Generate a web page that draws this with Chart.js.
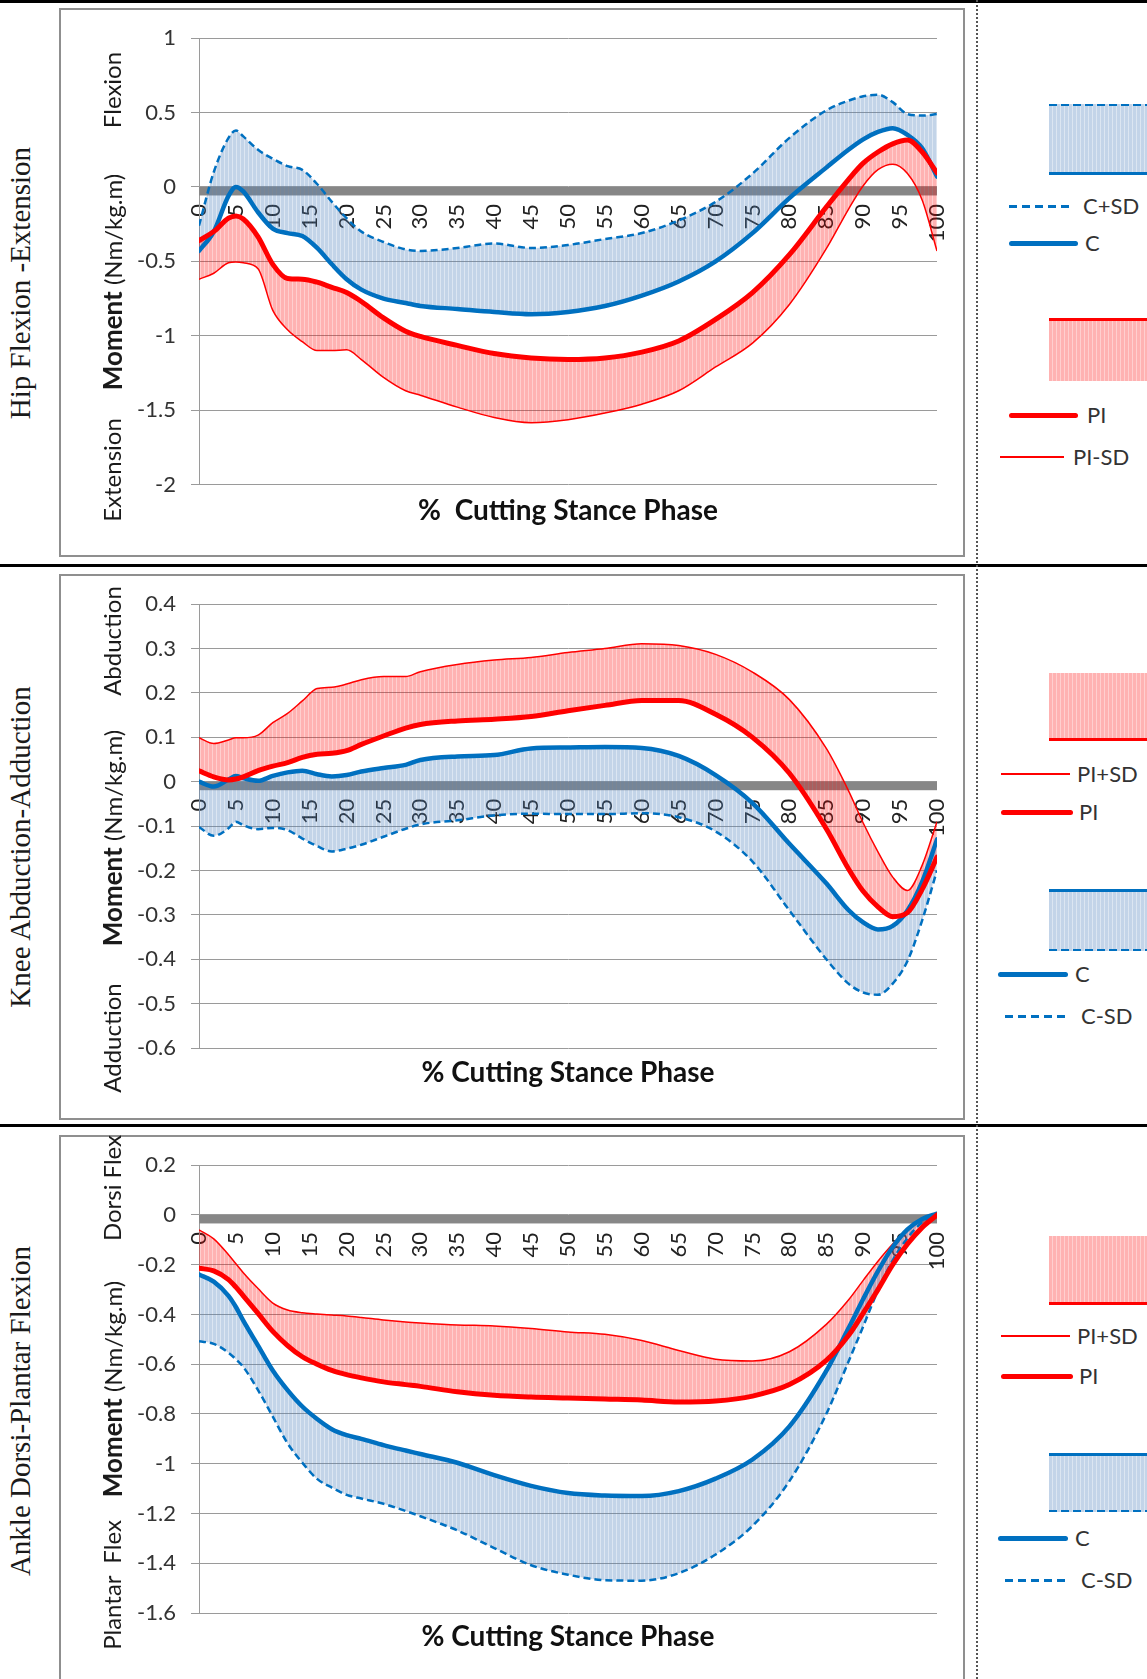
<!DOCTYPE html>
<html>
<head>
<meta charset="utf-8">
<script src="https://cdn.jsdelivr.net/npm/chart.js@4.4.1/dist/chart.umd.min.js"></script>
<style>
  html, body { margin: 0; padding: 0; background: #fff; }
  body { width: 1147px; height: 1679px; position: relative; overflow: hidden; font-family: Lato, sans-serif; }
  .hline { position: absolute; left: 0; width: 1147px; height: 3px; background: #000; }
  .vdots { position: absolute; left: 976px; top: 0; height: 1679px; border-left: 2px dotted #555; }
  .box { position: absolute; left: 59px; width: 902px; border: 2px solid #8f8f8f; background: #fff; }
  canvas { position: absolute; left: 61px; }
  .rot { position: absolute; transform: translate(-50%, -50%) rotate(-90deg); white-space: pre; line-height: 1; }
  .outer { font-family: 'Liberation Serif', serif; font-size: 29px; color: #1a1a1a; }
  .inner { font-size: 24px; color: #1a1a1a; }
  .inner b { font-size: 26px; }
  .xt { position: absolute; transform: translate(-50%, -50%); font-weight: bold; font-size: 28px; white-space: pre; color: #111; }
  .lg { position: absolute; font-size: 22px; color: #333; transform: translateY(-50%); line-height: 1; }
  .lbox { position: absolute; left: 1049px; width: 98px; }
  .lbox.blue { background: repeating-linear-gradient(90deg, rgba(79,129,189,0.34) 0 3px, rgba(79,129,189,0.2) 3px 4px); }
  .lbox.red { background: repeating-linear-gradient(90deg, rgba(255,0,0,0.3) 0 3px, rgba(255,0,0,0.19) 3px 4px); }
  .edge { position: absolute; left: 1049px; width: 98px; }
  .edge.bsolid { height: 3px; background: #0070C0; }
  .edge.rsolid { height: 3px; background: #ff0000; }
  .edge.bdash { height: 2px; background: repeating-linear-gradient(90deg, #0070C0 0 8px, transparent 8px 12px); }
  .ldash { position: absolute; height: 3px; background: repeating-linear-gradient(90deg, #0070C0 0 8px, transparent 8px 13px); }
  .lthick { position: absolute; height: 5px; border-radius: 3px; }
  .lthin { position: absolute; height: 1.5px; background: #ff0000; }
</style>
</head>
<body>

<div class="hline" style="top:0px"></div>
<div class="hline" style="top:564px"></div>
<div class="hline" style="top:1124px"></div>

<div class="box" style="top:8px;height:545px"></div>
<div class="box" style="top:574px;height:542px"></div>
<div class="box" style="top:1135px;height:560px"></div>

<canvas id="hip" width="902" height="545" style="top:10px"></canvas>
<canvas id="knee" width="902" height="542" style="top:576px"></canvas>
<canvas id="ankle" width="902" height="542" style="top:1137px"></canvas>

<div class="vdots"></div>

<!-- titres des axes -->
<div class="rot outer" style="left:20px;top:283px">Hip Flexion -Extension</div>
<div class="rot outer" style="left:20px;top:847px">Knee Abduction-Adduction</div>
<div class="rot outer" style="left:20px;top:1411px">Ankle Dorsi-Plantar Flexion</div>

<div class="rot inner" style="left:112px;top:90px">Flexion</div>
<div class="rot inner" style="left:112px;top:282px"><b>Moment</b> (Nm/kg.m)</div>
<div class="rot inner" style="left:112px;top:470px">Extension</div>

<div class="rot inner" style="left:112px;top:641px">Abduction</div>
<div class="rot inner" style="left:112px;top:838px"><b>Moment</b> (Nm/kg.m)</div>
<div class="rot inner" style="left:112px;top:1038px">Adduction</div>

<div class="rot inner" style="left:112px;top:1188px">Dorsi Flex</div>
<div class="rot inner" style="left:112px;top:1389px"><b>Moment</b> (Nm/kg.m)</div>
<div class="rot inner" style="left:112px;top:1585px">Plantar  Flex</div>

<div class="xt" style="left:568px;top:509px">%  Cutting Stance Phase</div>
<div class="xt" style="left:568px;top:1071px">% Cutting Stance Phase</div>
<div class="xt" style="left:568px;top:1635px">% Cutting Stance Phase</div>

<!-- legende hanche -->
<div class="lbox blue" style="top:104px;height:71px"></div>
<div class="edge bdash" style="top:104px"></div>
<div class="edge bsolid" style="top:172px"></div>
<div class="ldash" style="left:1009px;top:204.5px;width:63px"></div>
<div class="lg" style="left:1083px;top:206px">C+SD</div>
<div class="lthick" style="left:1009px;top:240.5px;width:69px;background:#0070C0"></div>
<div class="lg" style="left:1085px;top:243px">C</div>
<div class="lbox red" style="top:318px;height:63px"></div>
<div class="edge rsolid" style="top:318px"></div>
<div class="lthick" style="left:1009px;top:412.5px;width:69px;background:#ff0000"></div>
<div class="lg" style="left:1087px;top:415px">PI</div>
<div class="lthin" style="left:1000px;top:456px;width:64px"></div>
<div class="lg" style="left:1073px;top:457px">PI-SD</div>

<!-- legende genou -->
<div class="lbox red" style="top:673px;height:68px"></div>
<div class="edge rsolid" style="top:738px"></div>
<div class="lthin" style="left:1001px;top:773px;width:69px"></div>
<div class="lg" style="left:1077px;top:774px">PI+SD</div>
<div class="lthick" style="left:1001px;top:809.5px;width:72px;background:#ff0000"></div>
<div class="lg" style="left:1079px;top:812px">PI</div>
<div class="lbox blue" style="top:889px;height:62px"></div>
<div class="edge bsolid" style="top:889px"></div>
<div class="edge bdash" style="top:949px"></div>
<div class="lthick" style="left:998px;top:971.5px;width:70px;background:#0070C0"></div>
<div class="lg" style="left:1075px;top:974px">C</div>
<div class="ldash" style="left:1005px;top:1014.5px;width:63px"></div>
<div class="lg" style="left:1081px;top:1016px">C-SD</div>

<!-- legende cheville -->
<div class="lbox red" style="top:1236px;height:69px"></div>
<div class="edge rsolid" style="top:1302px"></div>
<div class="lthin" style="left:1001px;top:1335px;width:69px"></div>
<div class="lg" style="left:1077px;top:1336px">PI+SD</div>
<div class="lthick" style="left:1001px;top:1373.5px;width:72px;background:#ff0000"></div>
<div class="lg" style="left:1079px;top:1376px">PI</div>
<div class="lbox blue" style="top:1453px;height:59px"></div>
<div class="edge bsolid" style="top:1453px"></div>
<div class="edge bdash" style="top:1510px"></div>
<div class="lthick" style="left:998px;top:1535.5px;width:70px;background:#0070C0"></div>
<div class="lg" style="left:1075px;top:1538px">C</div>
<div class="ldash" style="left:1005px;top:1578.5px;width:63px"></div>
<div class="lg" style="left:1081px;top:1580px">C-SD</div>

<script>
// % de la phase d'appui
const pct = [0, 2, 4, 5, 6, 8, 10, 12, 14, 16, 18, 20, 22, 25, 28, 30, 35, 40, 45, 50,
  55, 60, 65, 70, 75, 80, 85, 88, 90, 92, 94, 96, 98, 100];

// Hanche flexion-extension
const hipCplusSD = [-0.26, 0.10, 0.33, 0.38, 0.34, 0.25, 0.19, 0.14, 0.115, 0.02, -0.10, -0.21, -0.30, -0.37, -0.42, -0.43, -0.41, -0.38, -0.41, -0.39,
  -0.35, -0.31, -0.225, -0.10, 0.09, 0.33, 0.515, 0.58, 0.61, 0.62, 0.57, 0.49, 0.48, 0.49];
const hipC = [-0.43, -0.30, -0.06, 0.0, -0.03, -0.17, -0.28, -0.31, -0.33, -0.41, -0.52, -0.62, -0.69, -0.75, -0.78, -0.80, -0.82, -0.84, -0.855, -0.84,
  -0.80, -0.73, -0.635, -0.50, -0.31, -0.075, 0.13, 0.25, 0.32, 0.37, 0.395, 0.35, 0.26, 0.07];
const hipPI = [-0.36, -0.30, -0.21, -0.195, -0.215, -0.335, -0.52, -0.615, -0.62, -0.64, -0.675, -0.71, -0.77, -0.88, -0.97, -1.005, -1.065, -1.12, -1.15, -1.16,
  -1.15, -1.11, -1.035, -0.89, -0.71, -0.455, -0.135, 0.05, 0.16, 0.235, 0.29, 0.315, 0.235, 0.095];
const hipPIminusSD = [-0.62, -0.58, -0.51, -0.505, -0.51, -0.55, -0.83, -0.96, -1.04, -1.10, -1.10, -1.095, -1.16, -1.28, -1.37, -1.40, -1.48, -1.55, -1.585, -1.565,
  -1.52, -1.46, -1.37, -1.21, -1.05, -0.79, -0.415, -0.15, 0.008, 0.116, 0.153, 0.09, -0.09, -0.43];

// Genou abduction-adduction
const kneePIplusSD = [0.099, 0.086, 0.094, 0.099, 0.099, 0.105, 0.133, 0.154, 0.182, 0.21, 0.213, 0.22, 0.23, 0.237, 0.237, 0.248, 0.264, 0.274, 0.28, 0.291,
  0.30, 0.311, 0.307, 0.287, 0.247, 0.185, 0.075, -0.02, -0.093, -0.158, -0.215, -0.245, -0.188, -0.09];
const kneePI = [0.0245, 0.011, 0.004, 0.006, 0.011, 0.025, 0.035, 0.043, 0.055, 0.062, 0.064, 0.07, 0.084, 0.103, 0.121, 0.129, 0.137, 0.141, 0.147, 0.16,
  0.172, 0.183, 0.183, 0.152, 0.10, 0.019, -0.106, -0.196, -0.247, -0.282, -0.304, -0.295, -0.242, -0.17];
const kneeC = [0.0, -0.011, 0.005, 0.013, 0.008, 0.002, 0.013, 0.021, 0.025, 0.017, 0.012, 0.015, 0.023, 0.031, 0.038, 0.049, 0.057, 0.06, 0.075, 0.077,
  0.078, 0.076, 0.058, 0.015, -0.048, -0.14, -0.229, -0.289, -0.317, -0.333, -0.325, -0.29, -0.225, -0.13];
const kneeCminusSD = [-0.102, -0.122, -0.105, -0.09, -0.098, -0.107, -0.104, -0.109, -0.128, -0.145, -0.157, -0.151, -0.142, -0.124, -0.106, -0.096, -0.087, -0.076, -0.072, -0.073,
  -0.073, -0.071, -0.08, -0.112, -0.18, -0.29, -0.40, -0.455, -0.475, -0.48, -0.455, -0.404, -0.312, -0.20];

// Cheville dorsi-plantar flexion
const anklePIplusSD = [-0.06, -0.096, -0.16, -0.196, -0.232, -0.296, -0.354, -0.382, -0.393, -0.398, -0.402, -0.406, -0.412, -0.422, -0.43, -0.434, -0.442, -0.446, -0.456, -0.47,
  -0.48, -0.505, -0.545, -0.58, -0.587, -0.55, -0.44, -0.342, -0.263, -0.186, -0.117, -0.058, -0.016, 0.005];
const anklePI = [-0.214, -0.225, -0.26, -0.29, -0.325, -0.396, -0.468, -0.525, -0.57, -0.60, -0.625, -0.642, -0.655, -0.671, -0.682, -0.689, -0.711, -0.725, -0.732, -0.736,
  -0.74, -0.744, -0.752, -0.748, -0.728, -0.682, -0.585, -0.485, -0.395, -0.30, -0.20, -0.117, -0.05, 0.0];
const ankleC = [-0.239, -0.268, -0.325, -0.37, -0.425, -0.525, -0.625, -0.704, -0.77, -0.82, -0.861, -0.885, -0.90, -0.925, -0.947, -0.961, -0.996, -1.046, -1.089, -1.118,
  -1.128, -1.13, -1.11, -1.06, -0.983, -0.85, -0.627, -0.456, -0.338, -0.226, -0.129, -0.058, -0.016, 0.005];
const ankleCminusSD = [-0.508, -0.518, -0.554, -0.58, -0.611, -0.704, -0.811, -0.918, -0.996, -1.061, -1.096, -1.125, -1.14, -1.161, -1.19, -1.211, -1.268, -1.339, -1.408, -1.446,
  -1.468, -1.47, -1.44, -1.365, -1.25, -1.07, -0.80, -0.59, -0.448, -0.303, -0.182, -0.093, -0.03, -0.005];

const BLUE = '#0070C0';
const RED = '#FF0000';

// motif hachuré vertical pour les bandes SD
function stripes(base, light) {
  const c = document.createElement('canvas');
  c.width = 4; c.height = 4;
  const g = c.getContext('2d');
  g.fillStyle = base; g.fillRect(0, 0, 3, 4);
  g.fillStyle = light; g.fillRect(3, 0, 1, 4);
  return g.createPattern(c, 'repeat');
}
const bluePat = stripes('rgba(79,129,189,0.34)', 'rgba(79,129,189,0.2)');
const redPat = stripes('rgba(255,0,0,0.3)', 'rgba(255,0,0,0.19)');

const pts = vals => pct.map((p, i) => ({ x: p, y: vals[i] }));

// trait gris épais sur l'axe 0
const zeroBand = {
  id: 'zeroBand',
  beforeDatasetsDraw(chart) {
    const { ctx, chartArea, scales } = chart;
    const y0 = scales.y.getPixelForValue(0);
    ctx.save();
    ctx.fillStyle = '#878787';
    ctx.fillRect(chartArea.left, y0, chartArea.right - chartArea.left, 8.5);
    ctx.restore();
  }
};

function meanLine(label, vals, color, order) {
  return { label, data: pts(vals), borderColor: color, borderWidth: color === RED ? 5 : 4.5, fill: false, order };
}
function sdLine(label, vals, color, target, order) {
  const dashed = color === BLUE;
  const pat = dashed ? bluePat : redPat;
  return {
    label, data: pts(vals), borderColor: color,
    borderWidth: dashed ? 2.5 : 1.5,
    borderDash: dashed ? [7, 4] : [],
    borderCapStyle: 'butt',
    fill: { target, above: pat, below: pat },
    order
  };
}

function makeChart(id, datasets, yMin, yMax, yStep, padTop, padBottom) {
  new Chart(document.getElementById(id), {
    type: 'line',
    data: { datasets },
    plugins: [zeroBand],
    options: {
      responsive: false,
      animation: false,
      devicePixelRatio: 1,
      layout: { padding: { left: 0, right: 26, top: padTop, bottom: padBottom } },
      plugins: { legend: { display: false }, tooltip: { enabled: false } },
      elements: {
        point: { radius: 0 },
        line: { cubicInterpolationMode: 'monotone', borderCapStyle: 'round', borderJoinStyle: 'round' }
      },
      scales: {
        x: {
          type: 'linear', min: 0, max: 100,
          position: { y: 0 },
          afterFit: s => { s.height = 0; s.paddingLeft = 0; s.paddingRight = 0; },
          grid: { display: false, drawTicks: false },
          border: { display: false },
          ticks: {
            stepSize: 5, autoSkip: false, minRotation: 90, maxRotation: 90, padding: 17,
            color: '#222', font: { family: 'Lato', size: 22 }
          }
        },
        y: {
          min: yMin, max: yMax,
          afterFit: s => { s.width = 138; },
          grid: { color: '#9a9a9a', lineWidth: 1, tickLength: 8 },
          border: { color: '#9a9a9a' },
          ticks: {
            stepSize: yStep, padding: 15,
            color: '#333', font: { family: 'Lato', size: 22 },
            callback: v => String(Math.round(v * 100) / 100)
          }
        }
      }
    }
  });
}

makeChart('hip', [
  sdLine('C+SD', hipCplusSD, BLUE, 1, 4),
  meanLine('C', hipC, BLUE, 2),
  meanLine('PI', hipPI, RED, 1),
  sdLine('PI-SD', hipPIminusSD, RED, 2, 3)
], -2, 1, 0.5, 27, 70.5);

makeChart('knee', [
  sdLine('PI+SD', kneePIplusSD, RED, 1, 4),
  meanLine('PI', kneePI, RED, 1),
  meanLine('C', kneeC, BLUE, 2),
  sdLine('C-SD', kneeCminusSD, BLUE, 2, 3)
], -0.6, 0.4, 0.1, 27, 70);

makeChart('ankle', [
  sdLine('PI+SD', anklePIplusSD, RED, 1, 4),
  meanLine('PI', anklePI, RED, 1),
  meanLine('C', ankleC, BLUE, 2),
  sdLine('C-SD', ankleCminusSD, BLUE, 2, 3)
], -1.6, 0.2, 0.2, 27, 66);
</script>
</body>
</html>
